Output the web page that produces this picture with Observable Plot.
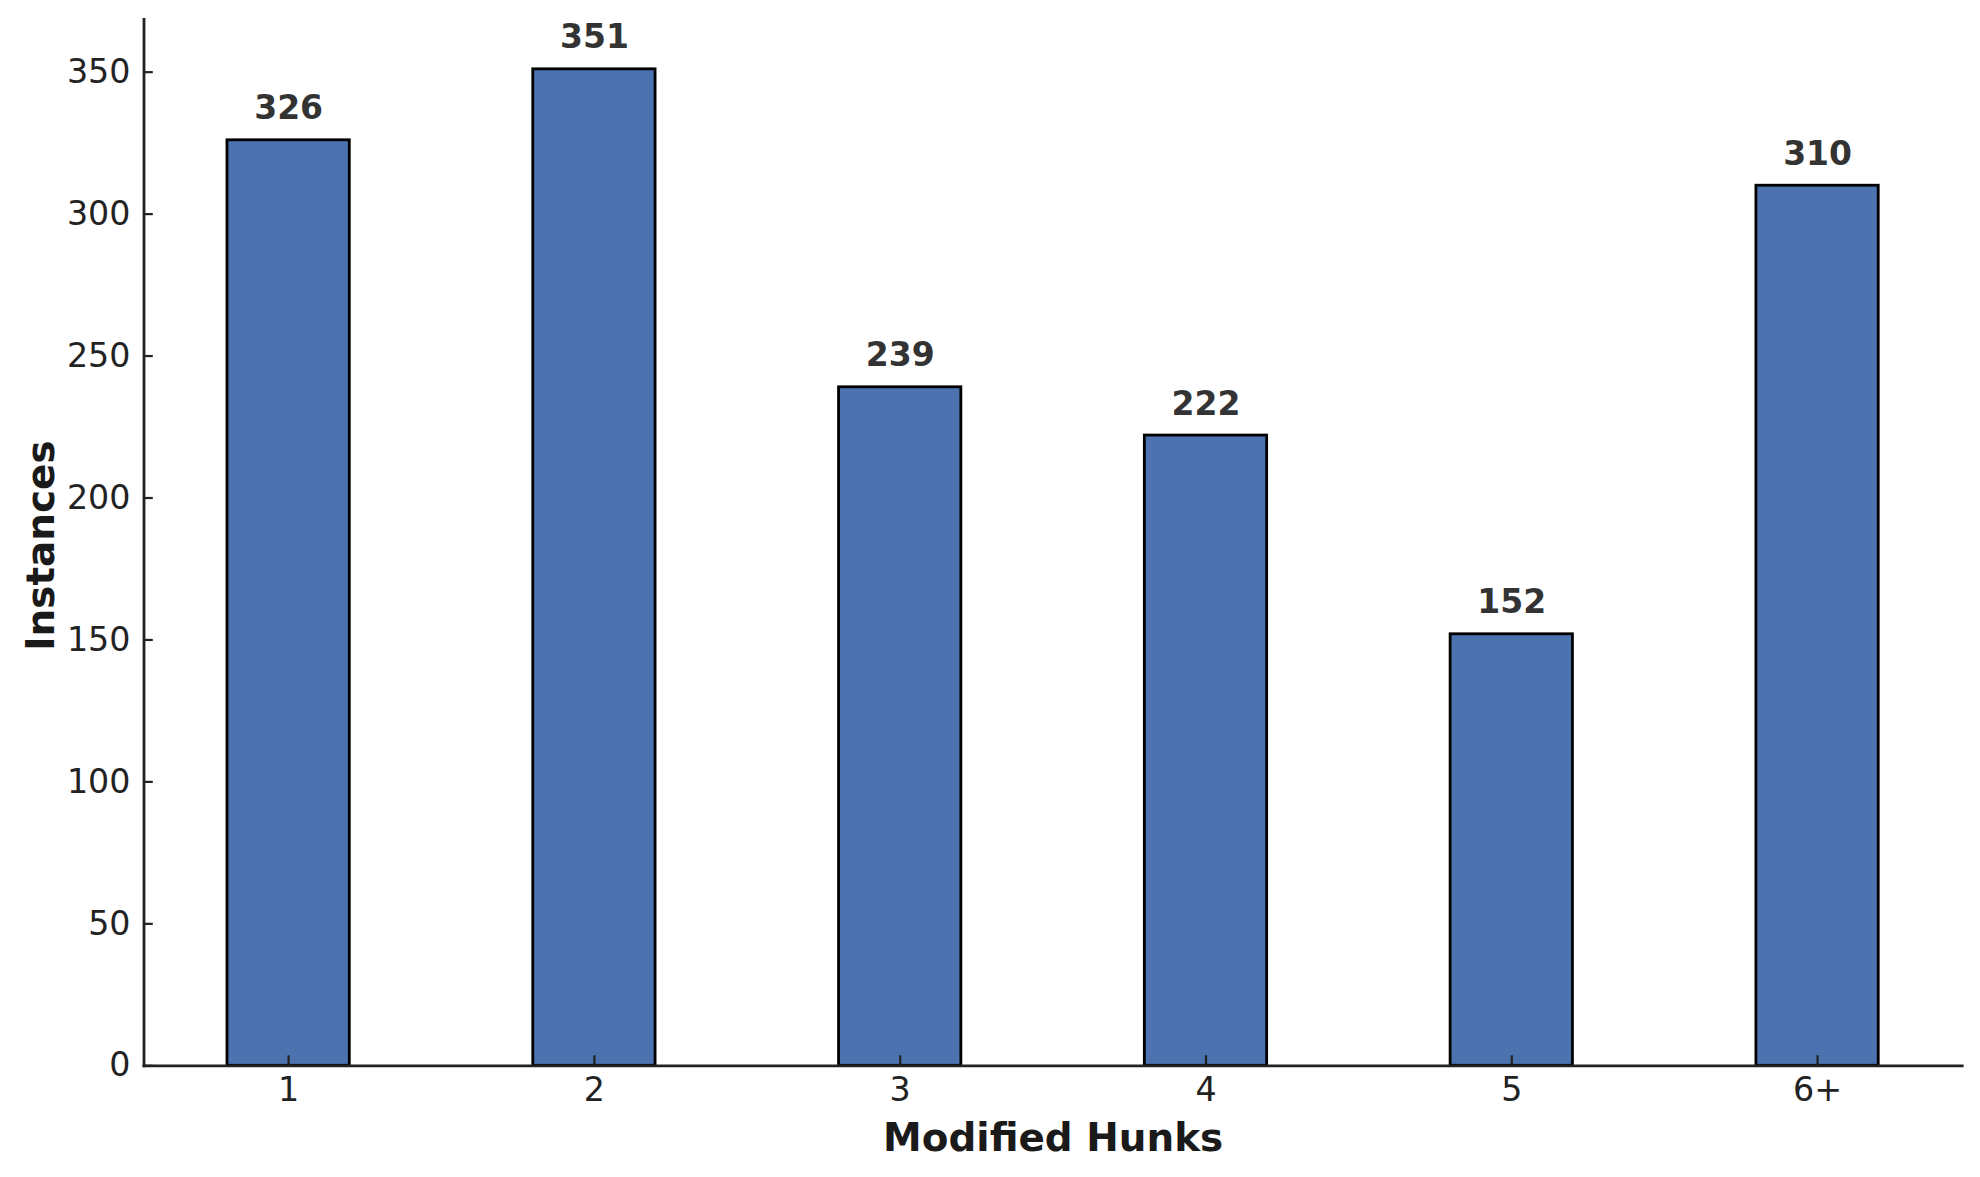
<!DOCTYPE html>
<html>
<head>
<meta charset="utf-8">
<script src="https://cdn.jsdelivr.net/npm/d3@7"></script>
<script src="https://cdn.jsdelivr.net/npm/@observablehq/plot@0.6"></script>
<style>
  html, body { margin: 0; padding: 0; background: white; }
</style>
</head>
<body>
<div id="chart"></div>
<script>
const categories = ["1", "2", "3", "4", "5", "6+"];
const instances = [326, 351, 239, 222, 152, 310];
const yTicks = [0, 50, 100, 150, 200, 250, 300, 350];
const xLabel = "Modified Hunks";
const yLabel = "Instances";

const data = categories.map((c, i) => ({cat: c, value: instances[i]}));
const yMax = d3.max(instances) * 1.05;

const chart = Plot.plot({
  width: 1980,
  height: 1177,
  marginLeft: 143.5,
  marginRight: 18.3,
  marginTop: 19,
  marginBottom: 111.7,
  style: {fontFamily: "DejaVu Sans", background: "white"},
  x: {type: "band", domain: categories, paddingInner: 0.6, paddingOuter: 0.273, align: 0.5, round: false},
  y: {domain: [0, yMax]},
  marks: [
    Plot.barY(data, {x: "cat", y: "value", fill: "#4C72B0", stroke: "#000", strokeWidth: 2.8}),
    Plot.text(data, {x: "cat", y: "value", text: d => String(d.value), dy: -21, lineAnchor: "bottom",
      fontWeight: "bold", fontSize: 33, fill: "#333"}),
    Plot.frame({anchor: "left", stroke: "#222", strokeWidth: 2.8}),
    Plot.frame({anchor: "bottom", stroke: "#222", strokeWidth: 2.8}),
    Plot.axisX({tickSize: -10, tickPadding: 22, fontSize: 33.3, color: "#222", strokeWidth: 2.2, label: null}),
    Plot.axisY({ticks: yTicks, tickSize: -9.3, tickPadding: 22.8, fontSize: 33.3, color: "#222", strokeWidth: 2.2, label: null, tickFormat: d => String(d)}),
    Plot.text([xLabel], {frameAnchor: "bottom", dy: 84.7, lineAnchor: "bottom", fontWeight: "bold", fontSize: 38.9, fill: "#1a1a1a"}),
    Plot.text([yLabel], {frameAnchor: "left", textAnchor: "middle", dx: -90.5, dy: 3, rotate: -90, lineAnchor: "bottom", fontWeight: "bold", fontSize: 38.9, fill: "#1a1a1a"})
  ]
});
document.getElementById("chart").appendChild(chart);
</script>
</body>
</html>
